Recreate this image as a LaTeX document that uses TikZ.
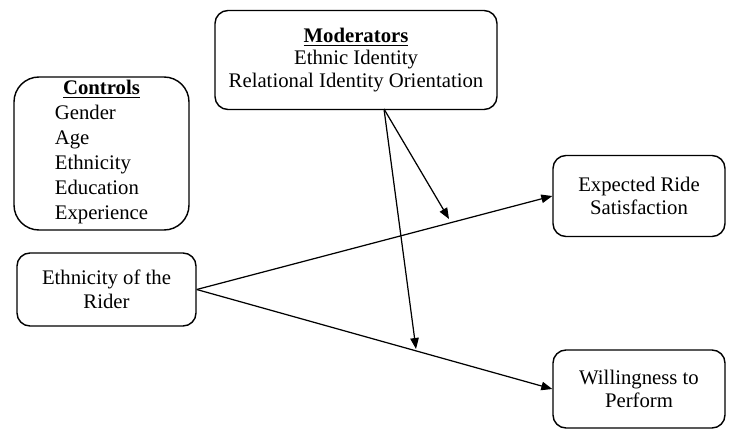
\documentclass[tikz,border=0pt]{standalone}
\usepackage{fontspec}
\setmainfont{Liberation Serif}
\usetikzlibrary{arrows.meta}
\begin{document}
\begin{tikzpicture}
    \tikzset{box/.style = {shape=rectangle, draw, line width=0.8pt, rounded corners=0.26cm, align=center,
        font=\fontsize{11.8}{13.4}\selectfont, inner sep=0pt}}
    \tikzset{edge/.style = {line width=0.7pt, -{Triangle[length=2.2mm,width=1.7mm]}}}
    \useasboundingbox (0,0) rectangle (14.66,8.62);
    % moderators and controls on top
    \node[box, minimum width=5.64cm, minimum height=1.98cm] (mod) at (7.12,7.42)
        {\underline{\textbf{Moderators}}\\[-1pt]Ethnic Identity\\Relational Identity Orientation};
    \node[box, rounded corners=0.5cm, minimum width=3.5cm, minimum height=3.06cm] (ctrl) at (2.03,5.55)
        {\underline{\textbf{Controls}}\\[1pt]\renewcommand\arraystretch{1.06}%
        \begin{tabular}{@{}l@{}}Gender\\Age\\Ethnicity\\Education\\Experience\end{tabular}};
    % predictor on the left
    \node[box, minimum width=3.58cm, minimum height=1.46cm] (rider) at (2.13,2.83) {Ethnicity of the\\Rider};
    % outcomes on the right
    \node[box, minimum width=3.44cm, minimum height=1.62cm] (sat) at (12.78,4.70) {Expected Ride\\Satisfaction};
    \node[box, minimum width=3.44cm, minimum height=1.56cm] (perf) at (12.78,0.84) {Willingness to\\Perform};
    % moderating paths
    \coordinate (m) at (7.68,6.44);
    \coordinate (t1) at (8.98,4.24);
    \coordinate (t2) at (8.32,1.64);
    % main effects
    \draw[edge] (rider.east) to (sat.west);
    \draw[edge] (rider.east) to (perf.west);
    \draw[edge] (m) to (t1);
    \draw[edge] (m) to (t2);
\end{tikzpicture}
\end{document}
